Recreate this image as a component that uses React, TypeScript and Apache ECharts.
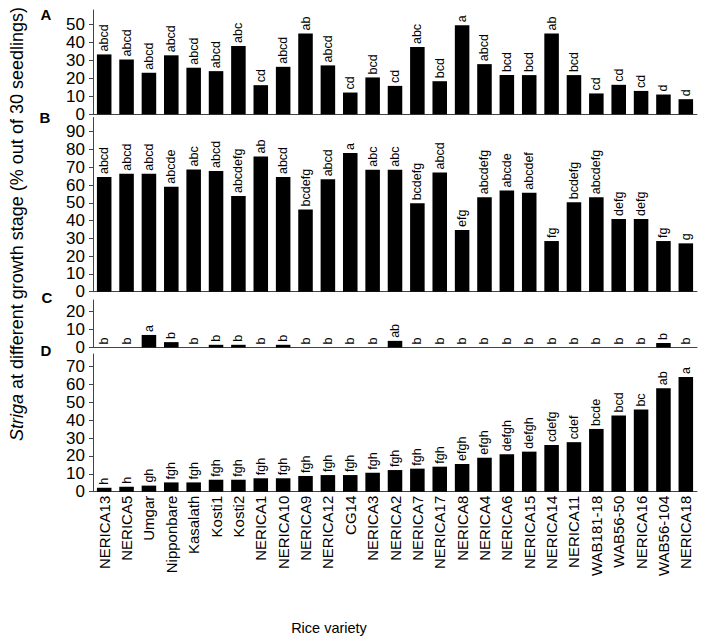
import React, { useEffect, useRef } from "react";
import * as echarts from "echarts";

const categories = [
  "NERICA13", "NERICA5", "Umgar", "Nipponbare", "Kasalath", "Kosti1", "Kosti2",
  "NERICA1", "NERICA10", "NERICA9", "NERICA12", "CG14", "NERICA3", "NERICA2",
  "NERICA7", "NERICA17", "NERICA8", "NERICA4", "NERICA6", "NERICA15", "NERICA14",
  "NERICA11", "WAB181-18", "WAB56-50", "NERICA16", "WAB56-104", "NERICA18",
];

const valuesA = [33.3, 30.5, 23.1, 32.8, 25.9, 24.0, 38.0, 16.2, 26.4, 44.9, 27.2, 12.1, 20.5, 15.8, 37.4, 18.4, 49.5, 27.9, 21.8, 21.8, 44.9, 21.8, 11.6, 16.4, 13.0, 11.0, 8.4];
const lettersA = ["abcd", "abcd", "abcd", "abcd", "abcd", "abcd", "abc", "cd", "abcd", "ab", "abcd", "cd", "bcd", "cd", "abc", "bcd", "a", "abcd", "bcd", "bcd", "ab", "bcd", "cd", "cd", "cd", "d", "d"];

const valuesB = [64.5, 66.4, 66.4, 59.1, 68.8, 67.9, 53.8, 76.1, 64.5, 46.3, 63.2, 78.0, 68.6, 68.6, 49.7, 67.1, 34.7, 53.1, 57.0, 55.7, 28.5, 50.3, 53.1, 40.9, 40.9, 28.5, 27.2];
const lettersB = ["abcd", "abcd", "abcd", "abcde", "abc", "abcd", "abcdefg", "ab", "abcd", "bcdefg", "abcd", "a", "abc", "abc", "bcdefg", "abcd", "efg", "abcdefg", "abcde", "abcdef", "fg", "bcdefg", "abcdefg", "defg", "defg", "fg", "g"];

const valuesC = [0, 0, 7, 3, 0, 1.5, 1.5, 0, 1.5, 0, 0, 0, 0, 3.7, 0, 0, 0, 0, 0, 0, 0, 0, 0, 0, 0, 2.5, 0];
const lettersC = ["b", "b", "a", "b", "b", "b", "b", "b", "b", "b", "b", "b", "b", "ab", "b", "b", "b", "b", "b", "b", "b", "b", "b", "b", "b", "b", "b"];

const valuesD = [2.2, 2.8, 3.4, 5.2, 5.2, 6.7, 6.7, 7.5, 7.5, 8.8, 9.3, 9.3, 10.6, 12.1, 12.9, 14.0, 15.5, 19.0, 20.9, 22.4, 26.1, 27.7, 35.1, 42.6, 45.9, 57.9, 64.1];
const lettersD = ["h", "h", "gh", "fgh", "fgh", "fgh", "fgh", "fgh", "fgh", "fgh", "fgh", "fgh", "fgh", "fgh", "fgh", "fgh", "efgh", "efgh", "defgh", "defgh", "cdefg", "cdef", "bcde", "bcd", "bc", "ab", "a"];

const ticksA = [0, 10, 20, 30, 40, 50];
const ticksB = [0, 10, 20, 30, 40, 50, 60, 70, 80, 90];
const ticksC = [0, 10, 20];
const ticksD = [0, 10, 20, 30, 40, 50, 60, 70];

const panelLetters = ["A", "B", "C", "D"];
const yTitle = "Striga at different growth stage (% out of 30 seedlings)";
const xTitle = "Rice variety";

const FONT = "'Liberation Sans', Arial, Helvetica, sans-serif";

export default function App() {
  const ref = useRef<HTMLDivElement>(null);

  useEffect(() => {
    if (!ref.current) return;
    const chart = echarts.init(ref.current, null, { renderer: "svg" });

    const panels = [
      { values: valuesA, letters: lettersA, ticks: ticksA, max: 58, top: 10, height: 104.3 },
      { values: valuesB, letters: lettersB, ticks: ticksB, max: 98, top: 117.5, height: 174.2 },
      { values: valuesC, letters: lettersC, ticks: ticksC, max: 26.5, top: 300, height: 47.5 },
      { values: valuesD, letters: lettersD, ticks: ticksD, max: 77, top: 354, height: 137.7 },
    ];

    const axisColor = "#444";

    const grid = panels.map((p) => ({
      left: 93,
      right: 11,
      top: p.top,
      height: p.height,
      outerBoundsMode: "none",
      containLabel: false,
    }));

    const xAxis = panels.map((p, i) => ({
      type: "category",
      gridIndex: i,
      data: categories,
      axisLine: { show: true, lineStyle: { color: axisColor, width: 1 } },
      axisTick: { show: false },
      axisLabel: {
        show: i === 3,
        rotate: 90,
        interval: 0,
        margin: 4,
        fontSize: 15,
        color: "#000",
        fontFamily: FONT,
      },
      splitLine: { show: false },
    }));

    const yAxis = panels.map((p, i) => ({
      type: "value",
      gridIndex: i,
      min: 0,
      max: p.max,
      interval: 10,
      axisLine: { show: true, lineStyle: { color: axisColor, width: 1 } },
      axisTick: { show: true, length: 4, inside: false, customValues: p.ticks, lineStyle: { color: axisColor } },
      axisLabel: {
        customValues: p.ticks,
        fontSize: 17,
        color: "#000",
        margin: 8,
        fontFamily: FONT,
      },
      splitLine: { show: false },
    }));

    const series = panels.map((p, i) => ({
      type: "bar",
      xAxisIndex: i,
      yAxisIndex: i,
      data: p.values,
      barWidth: "65%",
      itemStyle: { color: "#000" },
      label: {
        show: true,
        position: "top",
        rotate: 90,
        align: "left",
        verticalAlign: "middle",
        distance: 3,
        fontSize: 12.5,
        color: "#000",
        fontFamily: FONT,
        formatter: (params: any) => p.letters[params.dataIndex],
      },
    }));

    const letterPos = [
      [46, 14],
      [45, 117],
      [47, 297],
      [46, 350],
    ];

    const graphic: any[] = panelLetters.map((t, i) => ({
      type: "text",
      x: letterPos[i][0],
      y: letterPos[i][1],
      style: {
        text: t,
        fontSize: 15,
        fontWeight: "bold",
        fontFamily: FONT,
        fill: "#000",
        align: "center",
        verticalAlign: "middle",
      },
    }));

    graphic.push({
      type: "text",
      x: 17,
      y: 224,
      rotation: Math.PI / 2,
      style: {
        text: "{i|Striga}" + yTitle.slice(6),
        fontSize: 18,
        fontFamily: FONT,
        fill: "#000",
        align: "center",
        verticalAlign: "middle",
        rich: {
          i: { fontStyle: "italic", fontSize: 18, fontFamily: FONT, fill: "#000" },
        },
      },
    });

    graphic.push({
      type: "text",
      x: 329,
      y: 628,
      style: {
        text: xTitle,
        fontSize: 14.5,
        fontFamily: FONT,
        fill: "#000",
        align: "center",
        verticalAlign: "middle",
      },
    });

    chart.setOption({
      animation: false,
      backgroundColor: "#fff",
      grid,
      xAxis,
      yAxis,
      series,
      graphic,
    });

    return () => chart.dispose();
  }, []);

  return (
    <div
      ref={ref}
      style={{ position: "fixed", left: 0, top: 0, width: 708, height: 642, background: "#fff" }}
    />
  );
}
